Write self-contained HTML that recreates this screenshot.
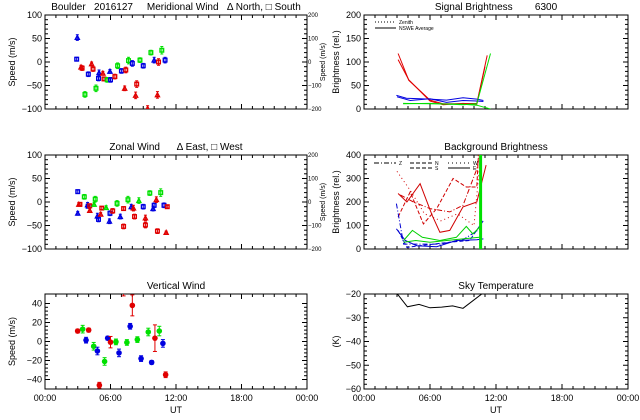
<!DOCTYPE html>
<html><head><meta charset="utf-8"><style>
html,body{margin:0;padding:0;background:#fff;}
svg{display:block;font-family:"Liberation Sans",sans-serif;}
text{white-space:pre;}
</style></head><body>
<svg id="c" width="640" height="420" viewBox="0 0 640 420" xmlns="http://www.w3.org/2000/svg" xml:space="preserve"></svg>
<script>
// ---- data ----
const merT=[2.96,2.9,3.3,3.4,3.97,3.66,4.27,4.4,4.67,4.95,4.9,5.3,5.4,5.7,6.0,5.95,6.4,6.65,7.0,7.3,7.4,7.65,8.0,8.3,8.4,8.7,9.0,9.4,9.7,10.0,10.4,10.3,10.7,11.0];
const merV=[52,6,-11,-13,-26,-69,-4,-15,-56,-23,-35,-24,-36,-38,-38,-20,-31,-8,-19,-56,-17,3,-3,-71,-47,4,-8,-99,20,4,0,-70,25,4];
const merC=['b','b','r','r','b','g','r','r','g','b','b','r','r','g','b','b','r','g','b','r','r','g','b','r','r','g','b','r','g','b','r','r','g','b'];
const merS=['t','s','t','s','s','s','t','s','s','t','s','t','s','s','s','t','s','s','s','t','s','s','s','t','s','s','s','t','s','t','s','t','s','s'];
const merE=[6,4,4,5,5,6,4,5,7,6,5,4,4,5,5,4,5,6,5,5,6,7,6,7,7,5,5,6,5,6,7,7,8,6];
const zonT=[3.0,3.0,3.1,3.2,3.6,3.9,3.95,4.1,4.1,4.6,4.5,4.8,4.9,5.1,5.2,5.6,5.9,5.95,6.2,6.6,6.9,7.2,7.2,7.6,7.9,8.1,8.2,8.6,9.0,9.2,9.2,9.6,9.9,10.0,10.2,10.3,10.6,10.9,11.1,11.2];
const zonV=[22,-24,-5,-5,11,-6,-9,-8,-18,6,-5,-30,-37,-26,-13,-12,-41,-24,-19,-3,-31,-14,-52,5,-10,-13,-31,3,-10,-34,-49,19,-14,-7,5,-62,20,-7,-65,-10];
const zonC=['b','b','r','r','g','b','b','r','r','g','g','b','b','r','r','g','b','b','r','g','b','r','r','g','b','r','r','g','b','r','r','g','b','b','r','r','g','b','r','r'];
const zonS=['s','t','t','s','s','t','s','s','t','s','t','t','s','t','s','t','t','s','s','s','t','s','s','s','t','t','s','t','s','t','s','s','t','s','t','s','s','s','t','s'];
const zonE=[4,4,3,3,5,5,4,4,4,6,4,6,5,4,3,4,5,5,5,6,5,4,5,7,5,6,5,6,5,6,6,5,5,5,6,5,8,5,3,3];
const verT=[2.99,3.45,4.0,3.76,4.46,4.8,4.98,5.46,5.74,6.0,6.5,6.78,7.2,7.5,7.8,8.0,8.46,8.8,9.46,9.77,10.07,10.47,10.8,11.05];
const verV=[11,13,12,1.4,-5,-10,-46,-21,3.5,-0.7,-0.4,-12,53,-1,16,38,2,-18,10,-22,3.5,11,-2,-35];
const verC=['r','g','r','b','g','b','r','g','b','r','g','b','r','g','b','r','g','b','g','b','r','g','b','r'];
const verE=[2,4,2,3,4,4,3,4,2,6,3,4,5,3,3,11,3,3,4,2,14,5,4,3];
const skyT=[2.5,3.04,3.95,5.0,6.0,7.05,8.05,9.0,10.7,11.2];
const skyV=[-15,-20,-25.4,-24.4,-25.8,-25.5,-25,-26,-20,-17];
const sigSeries=[
 {c:'#e00000',t:[3.1,4.07,6.0,7.2,9.0,10.25,11.2],v:[118,61,19,11,11,12,114]},
 {c:'#e00000',t:[3.1,4.07,6.0,7.2,9.0,10.25,11.0],v:[105,62,17,9,12,10,90]},
 {c:'#0000e0',t:[2.95,3.85,6.0,7.5,9.0,10.25,10.85],v:[29,23,21,19,24,21,18]},
 {c:'#0000e0',t:[3.0,4.2,6.0,7.5,9.0,10.25,10.85],v:[26,18,22,14,18,17,16]},
 {c:'#00e000',t:[3.55,6.0,9.0,10.25,11.5],v:[11,12,9,11,118]},
 {c:'#00e000',t:[3.55,6.0,9.0,10.25,11.5],v:[12,11,10,8,0]}
];
const bgSeries=[
 {c:'#d00000',d:'',t:[3.1,3.9,5.1,6.2,6.9,7.8,9.0,10.25,11.1],v:[236,200,278,143,71,79,179,200,357]},
 {c:'#d00000',d:'4,2',t:[3.1,4.2,5.4,6.6,8.1,9.3,10.25,10.4],v:[136,243,107,171,300,264,264,400]},
 {c:'#d00000',d:'5,2,1,2',t:[3.3,4.5,6.0,7.8,9.0,10.25,10.5],v:[230,200,172,158,186,340,400]},
 {c:'#d00000',d:'1,3',t:[3.0,4.2,5.5,7.0,8.5,10.0,10.6],v:[330,250,150,120,150,100,400]},
 {c:'#0000d0',d:'',t:[2.95,3.75,4.8,6.6,8.4,10.25,10.85],v:[86,36,14,10,36,39,43]},
 {c:'#0000d0',d:'5,2,1,2',t:[2.95,3.6,5.1,6.9,9.0,10.55],v:[193,21,21,21,39,86]},
 {c:'#0000d0',d:'4,2',t:[3.1,3.9,6.0,7.8,9.6,10.85],v:[79,7,19,29,36,121]},
 {c:'#00d000',d:'',t:[3.6,4.4,5.3,6.9,8.4,9.3,9.9,10.5],v:[36,79,50,36,50,96,64,93]},
 {c:'#00d000',d:'',t:[3.6,4.7,6.0,7.5,9.0,10.5],v:[29,36,29,36,43,50]}
];
// ---- drawing ----
const svg=document.getElementById('c');
const NS='http://www.w3.org/2000/svg';
function mk(tag,at,parent){const e=document.createElementNS(NS,tag);for(const k in at)e.setAttribute(k,at[k]);(parent||svg).appendChild(e);return e;}
function txt(x,y,s,anchor,size,parent,rot){const e=mk('text',{x:x,y:y,'font-size':size||9,'text-anchor':anchor||'middle',fill:'#000'},parent);if(rot)e.setAttribute('transform','rotate(-90 '+x+' '+y+')');e.textContent=s;return e;}
const COL={r:'#e00000',g:'#00e000',b:'#0000e0'};
function panel(name,x0,y0,x1,y1,ymin,ymax,yticks,ylab,title,showX,ylx){
 const g=mk('g',{});
 
 
 const P={x0,y0,x1,y1,g,sx:h=>x0+h/24*(x1-x0),sy:v=>y1-(v-ymin)/(ymax-ymin)*(y1-y0)};
 mk('rect',{x:x0,y:y0,width:x1-x0,height:y1-y0,fill:'none',stroke:'#000','stroke-width':1},g);
 for(let h=0;h<=24;h++){const x=P.sx(h);const L=h%6==0?5:3;
  mk('line',{x1:x,y1:y1,x2:x,y2:y1-L,stroke:'#000'},g);mk('line',{x1:x,y1:y0,x2:x,y2:y0+L,stroke:'#000'},g);}
 for(let i=0;i<yticks.length;i++){const y=P.sy(yticks[i]);
  mk('line',{x1:x0,y1:y,x2:x0+5,y2:y,stroke:'#000'},g);mk('line',{x1:x1,y1:y,x2:x1-5,y2:y,stroke:'#000'},g);
  const t=txt(x0-3,y+3,String(yticks[i]).replace('-','\u2212'),'end',9,g);
  
  
  if(i<yticks.length-1){const st=(yticks[i+1]-yticks[i])/5;for(let k=1;k<5;k++){const yy=P.sy(yticks[i]+st*k);
   mk('line',{x1:x0,y1:yy,x2:x0+3,y2:yy,stroke:'#000'},g);mk('line',{x1:x1,y1:yy,x2:x1-3,y2:yy,stroke:'#000'},g);}}}
 const yl=txt(x0-ylx,(y0+y1)/2,ylab,'middle',9,g,true);
 
 
 const tt=txt((x0+x1)/2,y0-5,title,'middle',10,g);
 
 
 if(showX){['00:00','06:00','12:00','18:00','00:00'].forEach((s,i)=>{const l=txt(P.sx(i*6),y1+12,s,'middle',9,g);
  
  });
  const u=txt((x0+x1)/2,y1+24,'UT','middle',9,g);
  
  }
 const cid='clip'+name;const cp=mk('clipPath',{id:cid},g);mk('rect',{x:x0,y:y0,width:x1-x0,height:y1-y0},cp);
 P.d=mk('g',{'clip-path':'url(#'+cid+')'},g);
 return P;}
function rightAxis(P,name){
 const g=mk('g',{},P.g);
 
 
 [200,100,0,-100,-200].forEach(v=>{const y=P.sy(v/2);txt(P.x1+1,y+2,String(v).replace('-','\u2212'),'start',6,g);});
 txt(P.x1+18,(P.y0+P.y1)/2,'Speed (m/s)','middle',7,g,true);}
function windPts(P,T,V,C,S,E,nm){
 for(let i=0;i<T.length;i++){const x=P.sx(T[i]),y=P.sy(V[i]),c=COL[C[i]];
  const g=mk('g',{},P.d);
  
  
  const e1=P.sy(V[i]+E[i]),e2=P.sy(V[i]-E[i]);
  mk('line',{x1:x,y1:e1,x2:x,y2:e2,stroke:c,'stroke-width':1},g);
  mk('line',{x1:x-1.5,y1:e1,x2:x+1.5,y2:e1,stroke:c},g);mk('line',{x1:x-1.5,y1:e2,x2:x+1.5,y2:e2,stroke:c},g);
  if(S[i]=='t')mk('path',{d:`M${x-2},${y+1.8}L${x+2},${y+1.8}L${x},${y-2}Z`,fill:'none',stroke:c,'stroke-width':1.4},g);
  else mk('rect',{x:x-1.8,y:y-1.8,width:3.6,height:3.6,fill:'none',stroke:c,'stroke-width':1.4},g);}}
function lineSeries(P,t,v,c,dash,w,nm){
 const d=t.map((h,i)=>(i?'L':'M')+P.sx(h).toFixed(1)+','+P.sy(v[i]).toFixed(1)).join('');
 const p=mk('path',{d:d,fill:'none',stroke:c,'stroke-width':w||1},P.d);
 if(dash)p.setAttribute('stroke-dasharray',dash);
 
 }
const LX0=45,LX1=307,RX0=364,RX1=628;
// Meridional
const p1=panel('meridional-wind-panel',LX0,15,LX1,109,-100,100,[-100,-50,0,50,100],'Speed (m/s)','Boulder   2016127     Meridional Wind   \u0394 North, \u25A1 South',false,30);
rightAxis(p1,'meridional-right-axis');windPts(p1,merT,merV,merC,merS,merE,'meridional');
// Zonal
const p2=panel('zonal-wind-panel',LX0,155,LX1,249,-100,100,[-100,-50,0,50,100],'Speed (m/s)','Zonal Wind      \u0394 East, \u25A1 West',false,30);
rightAxis(p2,'zonal-right-axis');windPts(p2,zonT,zonV,zonC,zonS,zonE,'zonal');
// Vertical
const p3=panel('vertical-wind-panel',LX0,294,LX1,389,-50,50,[-40,-20,0,20,40],'Speed (m/s)','Vertical Wind',true,30);
for(let i=0;i<verT.length;i++){const x=p3.sx(verT[i]),y=p3.sy(verV[i]),c=COL[verC[i]];
 const g=mk('g',{},p3.d);
 
 
 const e1=p3.sy(verV[i]+verE[i]),e2=p3.sy(verV[i]-verE[i]);
 mk('line',{x1:x,y1:e1,x2:x,y2:e2,stroke:c},g);mk('line',{x1:x-2,y1:e1,x2:x+2,y2:e1,stroke:c},g);mk('line',{x1:x-2,y1:e2,x2:x+2,y2:e2,stroke:c},g);
 mk('circle',{cx:x,cy:y,r:2.8,fill:c},g);}
// Signal brightness
const p4=panel('signal-brightness-panel',RX0,15,RX1,109,0,200,[0,50,100,150,200],'Brightness (rel.)','Signal Brightness        6300',false,25);
sigSeries.forEach(s=>lineSeries(p4,s.t,s.v,s.c,'',1,'signal-line'));
const lg=mk('g',{},p4.g);


mk('line',{x1:375,y1:22,x2:396,y2:22,stroke:'#000','stroke-dasharray':'1,2'},lg);txt(399,24,'Zenith','start',5,lg);
mk('line',{x1:375,y1:28,x2:396,y2:28,stroke:'#000'},lg);txt(399,30,'NSWE Average','start',5,lg);
// Background brightness
const p5=panel('background-brightness-panel',RX0,155,RX1,249,0,400,[0,100,200,300,400],'Brightness (rel.)','Background Brightness',false,25);
bgSeries.forEach(s=>lineSeries(p5,s.t,s.v,s.c,s.d,1,'background-line'));
lineSeries(p5,[10.6,10.6],[0,400],'#00e000','',3,'background-marker-line');
const lg2=mk('g',{},p5.g);


[[374,163,'5,2,1,2','Z'],[410,163,'4,2','N'],[448,163,'1,3','W'],[410,168,'4,2','S'],[448,168,'','E']].forEach(a=>{
 mk('line',{x1:a[0],y1:a[1],x2:a[0]+22,y2:a[1],stroke:'#000','stroke-dasharray':a[2]},lg2);txt(a[0]+25,a[1]+2,a[3],'start',5,lg2);});
// Sky temperature
const p6=panel('sky-temperature-panel',RX0,294,RX1,389,-60,-20,[-60,-50,-40,-30,-20],'(K)','Sky Temperature',true,25);
lineSeries(p6,skyT,skyV,'#000','',1,'sky-temperature-line');
</script>
</body></html>
